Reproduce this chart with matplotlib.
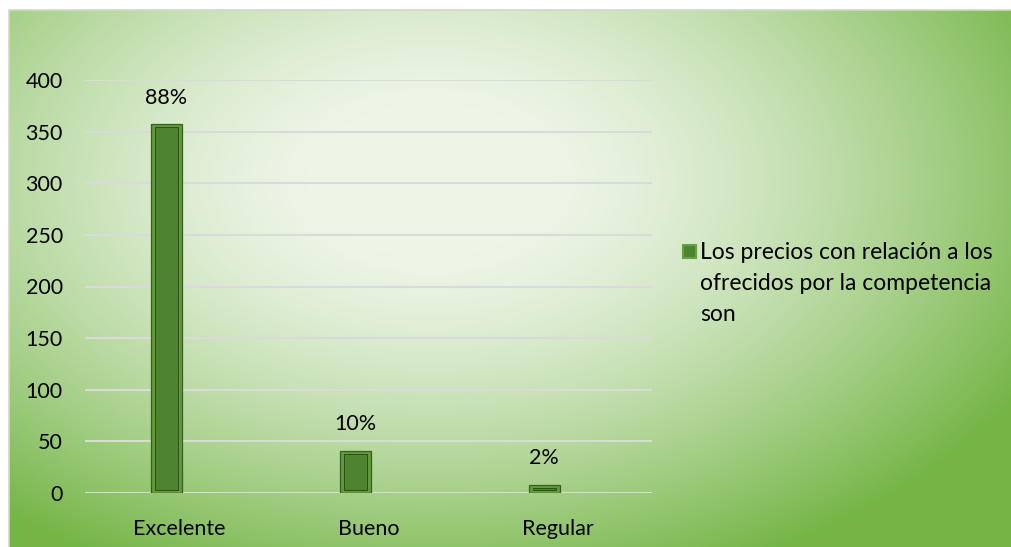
import numpy as np
import matplotlib
matplotlib.use("Agg")
import matplotlib.pyplot as plt
from matplotlib.patches import Rectangle

plt.rcParams['font.family'] = ['Lato', 'DejaVu Sans']

categories = ["Excelente", "Bueno", "Regular"]
values = [357, 41, 8]
series_name = "Los precios con relación a los\nofrecidos por la competencia\nson"
y_ticks = [0, 50, 100, 150, 200, 250, 300, 350, 400]

W, H = 1012, 547
fig = plt.figure(figsize=(W / 100, H / 100), dpi=100)
fig.patch.set_facecolor("white")

# chart-area background: pale centre fading to green towards the edges
left_px, top_px = 9, 10
bg = fig.add_axes([left_px / W, 0, 1 - left_px / W, 1 - top_px / H], zorder=0)
gx = np.arange(left_px, W)
gy = np.arange(top_px, H)
X, Y = np.meshgrid(gx, gy)
t = np.sqrt(((X - 430) / 680.0) ** 2 + ((Y - 180) / 430.0) ** 2)
s = np.clip((t - 0.18) / 0.82, 0, 1) ** 1.35
light = np.array([237, 245, 231]) / 255.0
green = np.array([116, 181, 70]) / 255.0
img = light[None, None, :] + (green - light)[None, None, :] * s[..., None]
bg.imshow(img, aspect="auto", interpolation="bilinear")
bg.set_axis_off()
fig.patches.append(Rectangle((left_px / W, -0.01), 1.01, 1 - top_px / H + 0.01,
                             transform=fig.transFigure, fill=False,
                             edgecolor="#d4d4d4", linewidth=1.2, zorder=5))

# plot area
ax = fig.add_axes([85 / W, 1 - 493 / H, (652 - 85) / W, (493 - 80) / H], zorder=2)
ax.set_facecolor("none")
ax.set_ylim(0, 400)
ax.set_xlim(-0.5, 2.5)
ax.set_yticks(y_ticks)
ax.yaxis.grid(True, color="#dadada", linewidth=1.5)
ax.set_axisbelow(True)
for sp in ax.spines.values():
    sp.set_visible(False)
ax.tick_params(axis="both", length=0, labelsize=15.5, colors="black")
ax.tick_params(axis="y", pad=16)
ax.tick_params(axis="x", pad=19)
ax.set_xticks(range(len(categories)))
ax.set_xticklabels(categories)

x = np.arange(len(categories))
offset = -0.07          # column sits slightly left of the category centre
bw = 0.165
xb = x + offset
bevel = 3.0

ax.bar(xb, values, width=bw, color="#62993C", edgecolor="#36601f",
       linewidth=0.9, zorder=3)
inner_h = [max(v - 2 * bevel, 0.0) for v in values]
ax.bar(xb, inner_h, bottom=bevel, width=bw * 0.74, color="#4E8430",
       edgecolor="#2c5017", linewidth=0.7, zorder=4)
# dark shadow line along the foot of each column
ax.bar(xb, [-1.2] * len(values), width=bw, color="#2f4a1e", linewidth=0, zorder=3)

total = sum(values)
for xi, v in zip(xb, values):
    pct = round(100 * v / total)
    ax.annotate(f"{pct}%", (xi, v), xytext=(0, 12), textcoords="offset points",
                ha="center", va="bottom", fontsize=15.5, color="black", zorder=6)

# legend
lx, ly = 683 / W, 1 - 245 / H
fig.patches.append(Rectangle((lx, ly - 13 / H), 13 / W, 13 / H,
                             transform=fig.transFigure, facecolor="#4E8430",
                             edgecolor="#67A041", linewidth=1.5, zorder=6))
fig.text(700 / W, 1 - 242 / H, series_name, fontsize=16.5, va="top", ha="left",
         linespacing=1.6, color="black", zorder=6)

fig.savefig("out.png", dpi=100)
